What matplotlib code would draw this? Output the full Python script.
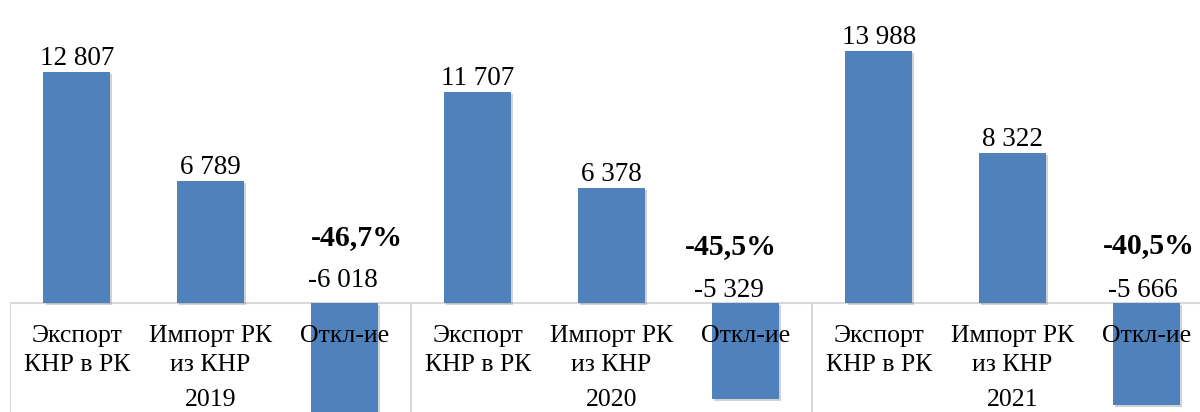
import matplotlib
matplotlib.use("Agg")
import matplotlib.pyplot as plt
import matplotlib.patheffects as pe

# data
years = ["2019", "2020", "2021"]
categories = ["Экспорт\nКНР в РК", "Импорт РК\nиз КНР", "Откл-ие"]
export_cn = [12807, 11707, 13988]
import_kz = [6789, 6378, 8322]
deviation = [-6018, -5329, -5666]
deviation_pct = ["-46,7%", "-45,5%", "-40,5%"]

BLUE = "#4F81BD"
GRID = "#d9d9d9"
plt.rcParams['font.family'] = ['Liberation Serif', 'DejaVu Serif']

fig = plt.figure(figsize=(12, 4.12), dpi=100)
# axes runs a bit past the right edge, like the original
ax = fig.add_axes([10 / 1200, 0, 1203 / 1200, 1])
ax.set_xlim(-0.5, 8.5)
ax.set_ylim(-6045, 16805)
ax.axis("off")

values = []
for i in range(3):
    values += [export_cn[i], import_kz[i], deviation[i]]
xs = list(range(len(values)))

shadow = [pe.SimplePatchShadow(offset=(1.5, -1.5), shadow_rgbFace="gray", alpha=0.35), pe.Normal()]
bars = ax.bar(xs, values, width=0.5, color=BLUE, zorder=3)
for b in bars:
    b.set_path_effects(shadow)

def fmt(v):
    s = f"{abs(v):,}".replace(",", " ")
    return "-" + s if v < 0 else s

# labels above positive bars
for x, v in zip(xs, values):
    if v > 0:
        ax.annotate(fmt(v), (x, v), xytext=(0, 5), textcoords="offset points",
                    ha="center", va="baseline", fontsize=19.5, zorder=4)

# negative values and percents sit above the zero line
val_off = [(-1, 16), (-16, 6), (-3, 6)]      # px: dx, baseline above zero
pct_off = [(13, 58), (-14, 49), (3, 50)]
for i in range(3):
    x = 3 * i + 2
    dx, dy = val_off[i]
    ax.annotate(fmt(deviation[i]), (x, 0), xytext=(dx * 0.72, dy * 0.72),
                textcoords="offset points", ha="center", va="baseline",
                fontsize=19.5, zorder=4)
    dx, dy = pct_off[i]
    ax.annotate(deviation_pct[i], (x, 0), xytext=(dx * 0.72, dy * 0.72),
                textcoords="offset points", ha="center", va="baseline",
                fontsize=21.5, fontweight="bold", zorder=4)

# category table below zero
trans = ax.get_xaxis_transform()
ax.plot([-0.5, 8.5], [0, 0], color=GRID, lw=1.5, zorder=1)
for sep in [-0.5, 2.5, 5.5]:
    ax.plot([sep, sep], [0, -6045], color=GRID, lw=1.5, zorder=1)
for i in range(3):
    for j, cat in enumerate(categories):
        x = 3 * i + j
        lines = cat.split("\n")
        for k, line in enumerate(lines):
            ax.text(x, (412 - 342 - 29 * k) / 412, line, transform=trans,
                    ha="center", va="baseline", fontsize=18.5, zorder=5)
    ax.text(3 * i + 1, 0.002, years[i], transform=trans,
            ha="center", va="bottom", fontsize=18.5, zorder=5)

fig.savefig("out.png", dpi=100)
